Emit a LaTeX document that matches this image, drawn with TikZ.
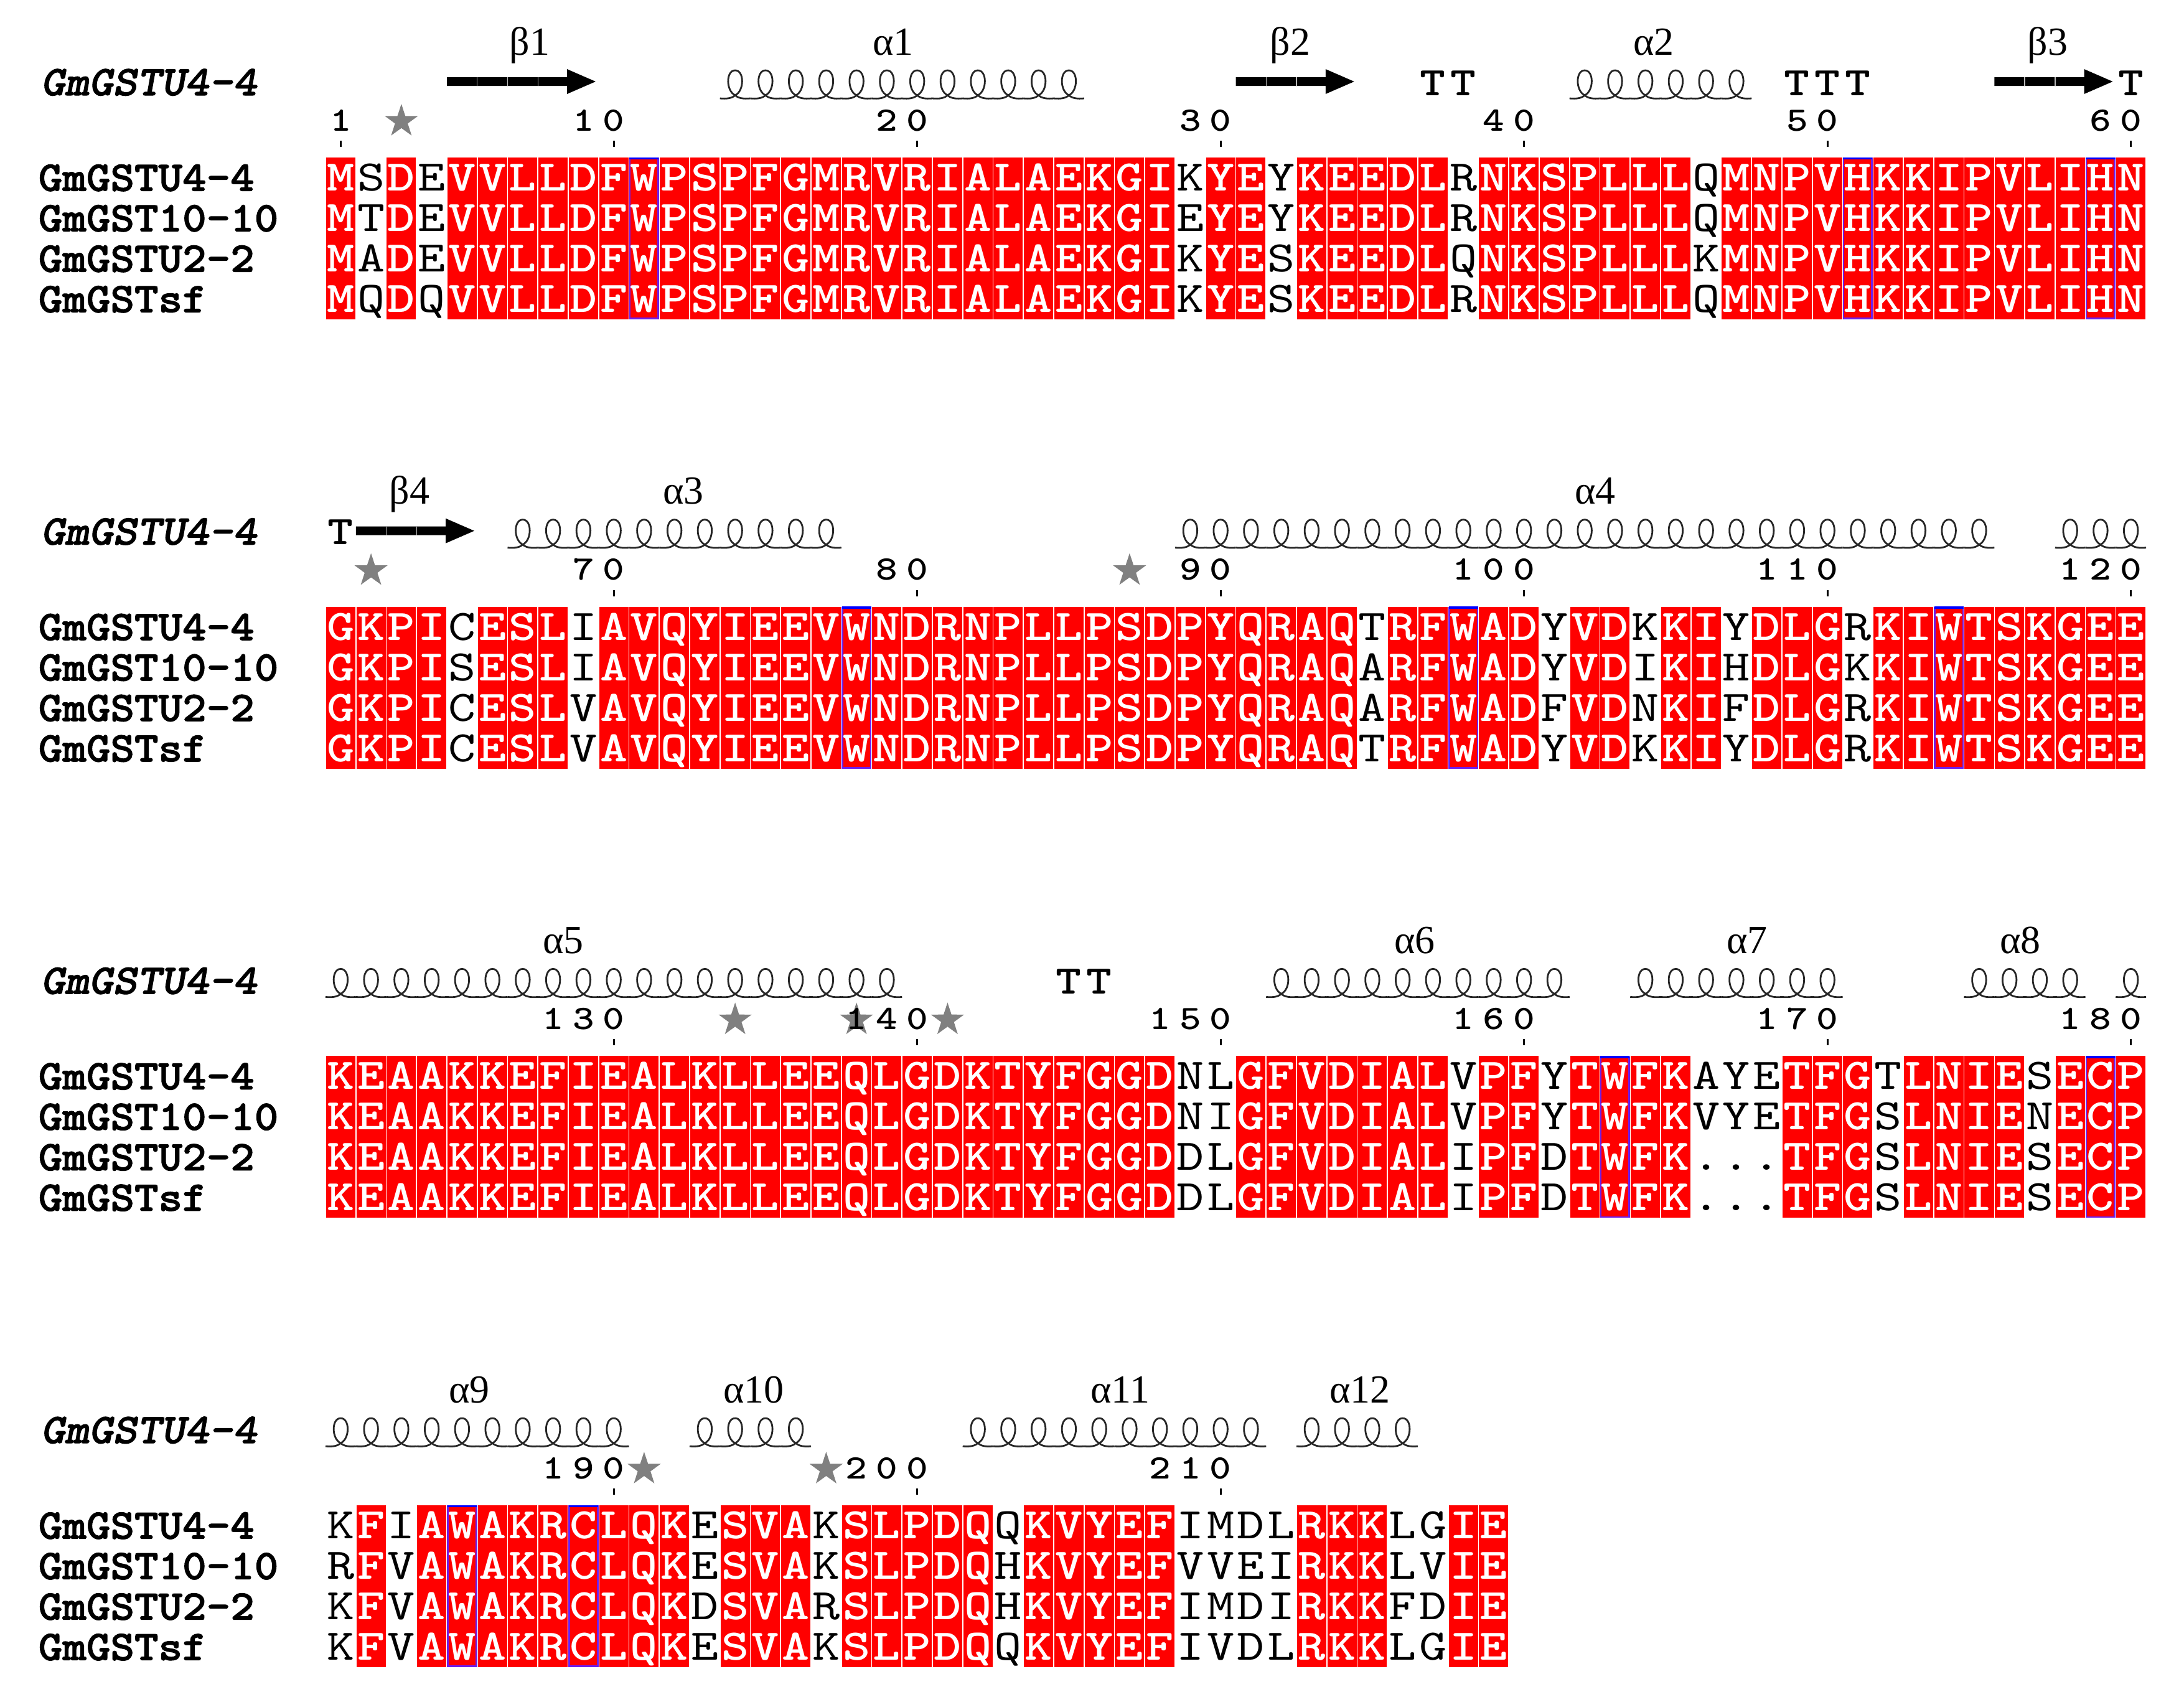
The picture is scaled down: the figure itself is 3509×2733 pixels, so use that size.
\documentclass[tikz,border=0pt]{standalone}
\usepackage{fontspec}
\usetikzlibrary{shapes.geometric}
\newfontfamily\seqB{lmmonolt10-bold.otf}[FakeStretch=1.2]
\newfontfamily\seqR{lmmono10-regular.otf}[FakeStretch=1.2]
\newfontfamily\nameB{lmmonolt10-bold.otf}[FakeStretch=1.08,FakeBold=1.6]
\newfontfamily\nameBI{lmmonolt10-boldoblique.otf}[FakeStretch=1.08,FakeBold=1.6]
\newfontfamily\lblfont{Liberation Serif}
\definecolor{seqred}{RGB}{255,0,0}
\definecolor{boxblue}{RGB}{0,0,255}
\definecolor{boxpurp}{RGB}{110,30,235}
\definecolor{stargray}{RGB}{128,128,128}
\ExplSyntaxOn
\cs_new:Npn \chr #1#2 { \str_item:Nn #1 {#2} }
\cs_new:Npn \slen #1 { \str_count:N #1 }
\ExplSyntaxOff
\def\dotchar{.}
\newcommand\drawblock[6]{%
 \def\sA{#3}\def\sB{#4}\def\sC{#5}\def\sD{#6}%
 \edef\nn{\slen\sA}%
 \foreach \i in {1,...,\nn}{%
   \pgfmathsetmacro\xl{523+(\i-1)*48.75}%
   \edef\ca{\chr\sA{\i}}\edef\cb{\chr\sB{\i}}\edef\cc{\chr\sC{\i}}\edef\cd{\chr\sD{\i}}%
   \def\isred{0}%
   \ifx\ca\cb\ifx\ca\cc\ifx\ca\cd\ifx\ca\dotchar\else\def\isred{1}\fi\fi\fi\fi
   \ifnum\isred=1
     \fill[seqred] (\xl+0.8,#2) rectangle (\xl+47.95,#2+260);
     \def\tcol{white}\let\fnt\seqB
   \else
     \def\tcol{black}\let\fnt\seqR
   \fi
   \node[res,text=\tcol,font={\fnt\fontsize{17.5}{20}\selectfont}] (s#1a\i) at (\xl+24.375,#2+53.5) {\ca};
   \node[res,text=\tcol,font={\fnt\fontsize{17.5}{20}\selectfont}] (s#1b\i) at (\xl+24.375,#2+118.5) {\cb};
   \node[res,text=\tcol,font={\fnt\fontsize{17.5}{20}\selectfont}] (s#1c\i) at (\xl+24.375,#2+183.5) {\cc};
   \node[res,text=\tcol,font={\fnt\fontsize{17.5}{20}\selectfont}] (s#1d\i) at (\xl+24.375,#2+248.5) {\cd};
 }%
}
\newcommand\names[2]{% block, top
 \node[namelab] (n#1a) at (61,#2+53.5) {GmGSTU4-4};
 \node[namelab] (n#1b) at (61,#2+118.5) {GmGST10-10};
 \node[namelab] (n#1c) at (61,#2+183.5) {GmGSTU2-2};
 \node[namelab] (n#1d) at (61,#2+248.5) {GmGSTsf};
 \node[hdrname] (h#1) at (65,#2-100) {GmGSTU4-4};
}
\newcommand\helix[3]{% top, startcol, n
 \foreach \k in {1,...,#3}{%
  \pgfmathsetmacro\hx{523+(#2+\k-1.5)*48.75}%
  \pgfmathsetmacro\hy{#1-93}%
  \draw[helixline] (\hx-24.4,\hy-2) .. controls (\hx-14,\hy-1) and (\hx-5,\hy-2) .. (\hx,\hy-7)
    .. controls (\hx+15,\hy-14) and (\hx+15,\hy-47) .. (\hx,\hy-47)
    .. controls (\hx-15,\hy-47) and (\hx-15,\hy-14) .. (\hx,\hy-7)
    .. controls (\hx+5,\hy-2) and (\hx+14,\hy-1) .. (\hx+24.4,\hy-2);
 }}
\newcommand\strand[3]{% top, startcol, endcol
 \pgfmathsetmacro\axl{523+(#2-1)*48.75}%
 \pgfmathsetmacro\axh{523+(#3-1)*48.75-2}%
 \pgfmathsetmacro\axr{\axh+46}%
 \pgfmathsetmacro\ay{#1-122}%
 \fill[black] (\axl,\ay-7) -- (\axh,\ay-7) -- (\axh,\ay-20) -- (\axr,\ay) -- (\axh,\ay+20) -- (\axh,\ay+7) -- (\axl,\ay+7) -- cycle;
 \pgfmathtruncatemacro\cend{#3-2}%
 \foreach \c in {#2,...,\cend}{%
   \pgfmathsetmacro\dx{523+\c*48.75}%
   \draw[gray!55,line width=0.35pt] (\dx,\ay-7) -- (\dx,\ay+7);
 }}
\newcommand\numlab[3]{% top, blockcol, number
 \def\numstr{#3}\edef\nd{\slen\numstr}%
 \foreach \j in {1,...,\nd}{%
   \edef\dg{\chr\numstr{\j}}%
   \pgfmathsetmacro\nx{523+(#2-\nd+\j-0.5)*48.75}%
   \node[numlab] (num#3-\j) at (\nx,#1-43) {\dg};
 }%
 \pgfmathsetmacro\tx{523+(#2-0.5)*48.75}%
 \draw[tick] (\tx,#1-27) -- (\tx,#1-17);
}
\newcommand\starat[3]{\pgfmathsetmacro\sx{523+(#2-0.5)*48.75}\node[gstar] (#3) at (\sx,#1-58) {};}
\newcommand\tmarkat[3]{\pgfmathsetmacro\tmx{523+(#2-0.5)*48.75}\node[tmark] (#3) at (\tmx,#1-100) {T};}
\newcommand\bbox[2]{\pgfmathsetmacro\bx{523+(#2-1)*48.75}%
 \draw[boxpurp,line width=0.7pt] (\bx+1.5,#1+1.5) rectangle (\bx+47.25,#1+258.5);
 \draw[boxblue,line width=0.9pt] (\bx+0.8,#1+1.5) -- (\bx+47.95,#1+1.5);}
\begin{document}
\begin{tikzpicture}[x=0.25pt,y=-0.25pt,
  res/.style={anchor=base,inner sep=0pt},
  namelab/.style={anchor=base west,inner sep=0pt,font=\nameB\fontsize{17}{18}\selectfont},
  hdrname/.style={anchor=base west,inner sep=0pt,font=\nameBI\fontsize{17}{18}\selectfont},
  numlab/.style={anchor=base,inner sep=0pt,font=\seqB\fontsize{13.75}{16}\selectfont},
  tmark/.style={anchor=base,inner sep=0pt,font=\seqB\fontsize{16.25}{18}\selectfont},
  sslabel/.style={anchor=base,inner sep=0pt,font=\lblfont\fontsize{16}{18}\selectfont},
  gstar/.style={star,star points=5,star point ratio=2.6,fill=stargray,draw=none,inner sep=0pt,minimum size=14pt},
  helixline/.style={draw=black!85,line width=0.7pt},
  tick/.style={line width=0.75pt}]
\useasboundingbox[fill=white] (0,0) rectangle (3509,2733);
% ---------------- block 1 ----------------
\names{1}{253}
\node[sslabel] (l1) at (851,88) {β1};
\node[sslabel] (l2) at (1435,88) {α1};
\node[sslabel] (l3) at (2073,88) {β2};
\node[sslabel] (l4) at (2657,88) {α2};
\node[sslabel] (l5) at (3290,88) {β3};
\strand{253}{5}{9}\strand{253}{31}{34}\strand{253}{56}{59}
\helix{253}{14}{12}\helix{253}{42}{6}
\tmarkat{253}{37}{t1}\tmarkat{253}{38}{t2}\tmarkat{253}{49}{t3}\tmarkat{253}{50}{t4}\tmarkat{253}{51}{t5}\tmarkat{253}{60}{t6}
\starat{253}{3}{st1}
\numlab{253}{1}{1}\numlab{253}{10}{10}\numlab{253}{20}{20}\numlab{253}{30}{30}\numlab{253}{40}{40}\numlab{253}{50}{50}\numlab{253}{60}{60}
\drawblock{1}{253}{MSDEVVLLDFWPSPFGMRVRIALAEKGIKYEYKEEDLRNKSPLLLQMNPVHKKIPVLIHN}{MTDEVVLLDFWPSPFGMRVRIALAEKGIEYEYKEEDLRNKSPLLLQMNPVHKKIPVLIHN}{MADEVVLLDFWPSPFGMRVRIALAEKGIKYESKEEDLQNKSPLLLKMNPVHKKIPVLIHN}{MQDQVVLLDFWPSPFGMRVRIALAEKGIKYESKEEDLRNKSPLLLQMNPVHKKIPVLIHN}
\bbox{253}{11}\bbox{253}{51}\bbox{253}{59}
% ---------------- block 2 ----------------
\names{2}{974.7}
\node[sslabel] (l6) at (658,809.7) {β4};
\node[sslabel] (l7) at (1098,809.7) {α3};
\node[sslabel] (l8) at (2563,809.7) {α4};
\strand{974.7}{2}{5}
\helix{974.7}{7}{11}\helix{974.7}{29}{27}\helix{974.7}{58}{3}
\tmarkat{974.7}{1}{t7}
\starat{974.7}{2}{st2}\starat{974.7}{27}{st3}
\numlab{974.7}{10}{70}\numlab{974.7}{20}{80}\numlab{974.7}{30}{90}\numlab{974.7}{40}{100}\numlab{974.7}{50}{110}\numlab{974.7}{60}{120}
\drawblock{2}{974.7}{GKPICESLIAVQYIEEVWNDRNPLLPSDPYQRAQTRFWADYVDKKIYDLGRKIWTSKGEE}{GKPISESLIAVQYIEEVWNDRNPLLPSDPYQRAQARFWADYVDIKIHDLGKKIWTSKGEE}{GKPICESLVAVQYIEEVWNDRNPLLPSDPYQRAQARFWADFVDNKIFDLGRKIWTSKGEE}{GKPICESLVAVQYIEEVWNDRNPLLPSDPYQRAQTRFWADYVDKKIYDLGRKIWTSKGEE}
\bbox{974.7}{18}\bbox{974.7}{38}\bbox{974.7}{54}
% ---------------- block 3 ----------------
\names{3}{1696.4}
\node[sslabel] (l9) at (905,1531.4) {α5};
\node[sslabel] (l10) at (2273,1531.4) {α6};
\node[sslabel] (l11) at (2807,1531.4) {α7};
\node[sslabel] (l12) at (3246,1531.4) {α8};
\helix{1696.4}{1}{19}\helix{1696.4}{32}{10}\helix{1696.4}{44}{7}\helix{1696.4}{55}{4}\helix{1696.4}{60}{1}
\tmarkat{1696.4}{25}{t8}\tmarkat{1696.4}{26}{t9}
\starat{1696.4}{14}{st4}\starat{1696.4}{18}{st5}\starat{1696.4}{21}{st6}
\numlab{1696.4}{10}{130}\numlab{1696.4}{20}{140}\numlab{1696.4}{30}{150}\numlab{1696.4}{40}{160}\numlab{1696.4}{50}{170}\numlab{1696.4}{60}{180}
\drawblock{3}{1696.4}{KEAAKKEFIEALKLLEEQLGDKTYFGGDNLGFVDIALVPFYTWFKAYETFGTLNIESECP}{KEAAKKEFIEALKLLEEQLGDKTYFGGDNIGFVDIALVPFYTWFKVYETFGSLNIENECP}{KEAAKKEFIEALKLLEEQLGDKTYFGGDDLGFVDIALIPFDTWFK...TFGSLNIESECP}{KEAAKKEFIEALKLLEEQLGDKTYFGGDDLGFVDIALIPFDTWFK...TFGSLNIESECP}
\bbox{1696.4}{43}\bbox{1696.4}{59}
% ---------------- block 4 ----------------
\names{4}{2418.1}
\node[sslabel] (l13) at (754,2253.1) {α9};
\node[sslabel] (l14) at (1211,2253.1) {α10};
\node[sslabel] (l15) at (1800,2253.1) {α11};
\node[sslabel] (l16) at (2185,2253.1) {α12};
\helix{2418.1}{1}{10}\helix{2418.1}{13}{4}\helix{2418.1}{22}{10}\helix{2418.1}{33}{4}
\starat{2418.1}{11}{st7}\starat{2418.1}{17}{st8}
\numlab{2418.1}{10}{190}\numlab{2418.1}{20}{200}\numlab{2418.1}{30}{210}
\drawblock{4}{2418.1}{KFIAWAKRCLQKESVAKSLPDQQKVYEFIMDLRKKLGIE}{RFVAWAKRCLQKESVAKSLPDQHKVYEFVVEIRKKLVIE}{KFVAWAKRCLQKDSVARSLPDQHKVYEFIMDIRKKFDIE}{KFVAWAKRCLQKESVAKSLPDQQKVYEFIVDLRKKLGIE}
\bbox{2418.1}{5}\bbox{2418.1}{9}
\end{tikzpicture}
\end{document}
